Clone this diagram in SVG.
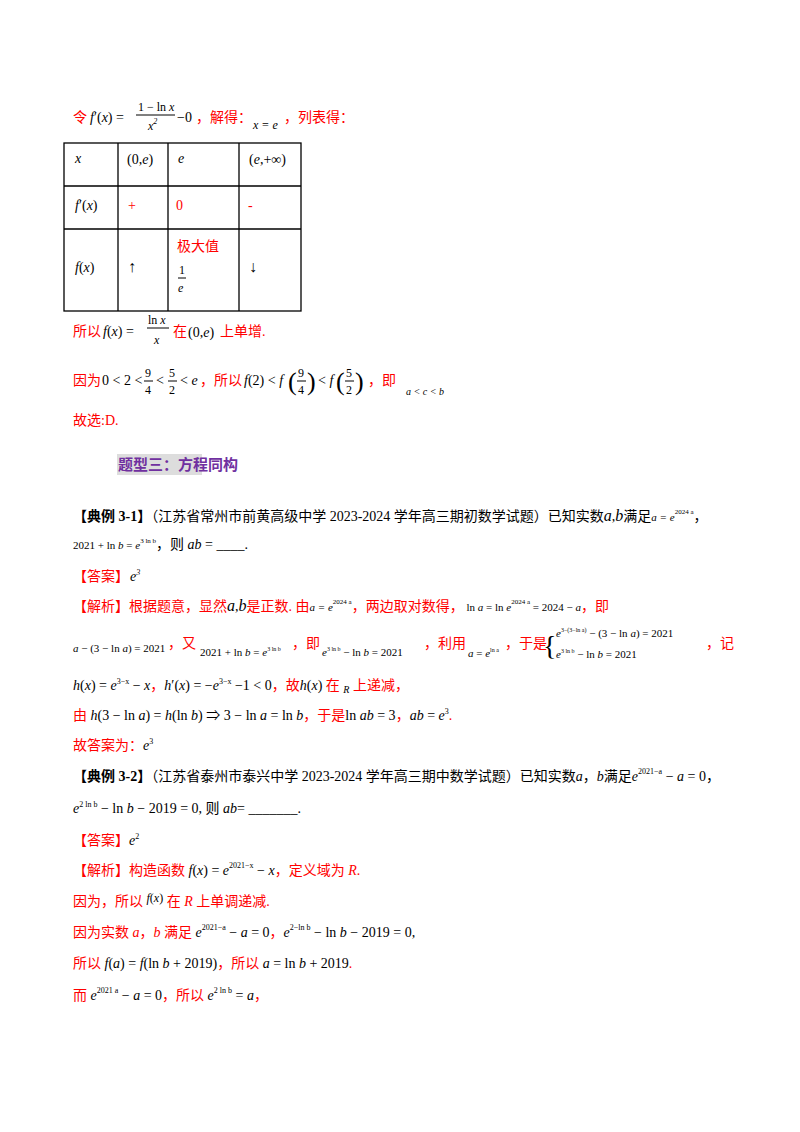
<svg xmlns="http://www.w3.org/2000/svg" width="800" height="1132" viewBox="0 0 800 1132">
<style>
svg{font-size:14px}
text{font-family:"Liberation Serif","Noto Sans CJK SC",serif;fill:#000}
.r{fill:#f00}
.m{font-style:italic}
.s{font-size:8px}
.b{font-weight:bold}
.t{fill:none;stroke:#000;stroke-width:1.3}
</style>
<rect width="800" height="1132" fill="#fff"/>
<text class="r" x="73" y="122">令</text>
<text x="90" y="122"><tspan class="m">f</tspan>′(<tspan class="m">x</tspan>) =</text>
<text x="138" y="111" font-size="12">1 − ln <tspan class="m">x</tspan></text>
<line x1="136" y1="115" x2="175" y2="115" stroke="#000"/>
<text x="148" y="130" font-size="12" class="m">x<tspan class="s" dy="-6">2</tspan></text>
<text x="177" y="122">−0</text>
<text class="r" x="196" y="122">，解得：</text>
<text x="253" y="129" font-size="12" class="m">x = e</text>
<text class="r" x="284" y="122">，列表得：</text>
<g id="table">
<rect class="t" x="64" y="143" width="237" height="168"/>
<line class="t" x1="118" y1="143" x2="118" y2="311"/>
<line class="t" x1="168" y1="143" x2="168" y2="311"/>
<line class="t" x1="239" y1="143" x2="239" y2="311"/>
<line class="t" x1="64" y1="186" x2="301" y2="186"/>
<line class="t" x1="64" y1="229" x2="301" y2="229"/>
<text x="75" y="163" class="m">x</text>
<text x="127" y="164">(0,<tspan class="m">e</tspan>)</text>
<text x="178" y="163" class="m">e</text>
<text x="249" y="164">(<tspan class="m">e</tspan>,+∞)</text>
<text x="75" y="210"><tspan class="m">f</tspan>′(<tspan class="m">x</tspan>)</text>
<text class="r" x="128" y="210">+</text>
<text class="r" x="176" y="210">0</text>
<text class="r" x="248" y="210">-</text>
<text x="75" y="272"><tspan class="m">f</tspan>(<tspan class="m">x</tspan>)</text>
<text x="128" y="272" font-size="16">↑</text>
<text class="r" x="177" y="251">极大值</text>
<text x="179" y="274" font-size="12">1</text>
<line x1="178" y1="278" x2="186" y2="278" stroke="#000"/>
<text x="178" y="292" font-size="12" class="m">e</text>
<text x="249" y="272" font-size="16">↓</text>
</g>
<text class="r" x="73" y="336">所以</text>
<text x="103" y="336"><tspan class="m">f</tspan>(<tspan class="m">x</tspan>) =</text>
<text x="148" y="324" font-size="12">ln <tspan class="m">x</tspan></text>
<line x1="147" y1="328" x2="169" y2="328" stroke="#000"/>
<text x="154" y="344" font-size="12" class="m">x</text>
<text class="r" x="173" y="336">在</text>
<text x="188" y="337">(0,<tspan class="m">e</tspan>)</text>
<text class="r" x="220" y="336">上单增.</text>
<text class="r" x="73" y="385">因为</text>
<text x="102" y="385">0 &lt; 2 &lt;</text>
<text x="145" y="377" font-size="12">9</text><line x1="144" y1="381" x2="153" y2="381" stroke="#000"/><text x="145" y="394" font-size="12">4</text>
<text x="156" y="385">&lt;</text>
<text x="169" y="377" font-size="12">5</text><line x1="168" y1="381" x2="177" y2="381" stroke="#000"/><text x="169" y="394" font-size="12">2</text>
<text x="180" y="385">&lt; <tspan class="m">e</tspan></text>
<text class="r" x="200" y="385">，所以</text>
<text x="244" y="385"><tspan class="m">f</tspan>(2) &lt; <tspan class="m">f</tspan></text>
<text x="288" y="390" font-size="26">(</text><text x="298" y="377" font-size="12">9</text><line x1="297" y1="381" x2="306" y2="381" stroke="#000"/><text x="298" y="394" font-size="12">4</text><text x="307" y="390" font-size="26">)</text>
<text x="318" y="385">&lt; <tspan class="m">f</tspan></text>
<text x="336" y="390" font-size="26">(</text><text x="346" y="377" font-size="12">5</text><line x1="345" y1="381" x2="354" y2="381" stroke="#000"/><text x="346" y="394" font-size="12">2</text><text x="355" y="390" font-size="26">)</text>
<text class="r" x="368" y="385">，即</text>
<text x="406" y="395" font-size="10" class="m">a &lt; c &lt; b</text>
<text class="r" x="73" y="425">故选:D.</text>
<rect x="117" y="454" width="85" height="21" fill="#ddd"/>
<text x="118" y="470" class="b" style="fill:#7030a0;font-family:'Noto Sans CJK SC',sans-serif" font-size="15">题型三：方程同构</text>
<text x="73" y="521"><tspan class="b">【典例 3-1】</tspan>（江苏省常州市前黄高级中学 2023-2024 学年高三期初数学试题）已知实数<tspan class="m" font-size="16">a</tspan>,<tspan class="m" font-size="16">b</tspan>满足<tspan class="m" font-size="11">a = e</tspan><tspan font-size="7" dy="-7">2024  a</tspan><tspan dy="7">，</tspan></text>
<text x="73" y="549" font-size="11">2021 + ln <tspan class="m">b</tspan> = <tspan class="m">e</tspan><tspan font-size="7" dy="-6">3  ln b</tspan><tspan font-size="14" dy="6">，则 </tspan><tspan class="m" font-size="14">ab</tspan><tspan font-size="14"> = ____.</tspan></text>
<text class="r" x="73" y="581">【答案】</text>
<text x="130" y="581" class="m">e<tspan class="s" dy="-6">3</tspan></text>
<text class="r" x="73" y="611">【解析】根据题意，显然<tspan class="m" style="fill:#000" font-size="16">a</tspan><tspan style="fill:#000">,</tspan><tspan class="m" style="fill:#000" font-size="16">b</tspan>是正数. 由<tspan style="fill:#000" font-size="11" class="m">a = e</tspan><tspan style="fill:#000" font-size="7" dy="-7">2024  a</tspan><tspan dy="7">，两边取对数得，</tspan><tspan style="fill:#000" font-size="11"> ln <tspan class="m">a</tspan> = ln <tspan class="m">e</tspan></tspan><tspan style="fill:#000" font-size="7" dy="-7">2024  a</tspan><tspan style="fill:#000" font-size="11" dy="7"> = 2024 − <tspan class="m">a</tspan></tspan>，即</text>
<text x="73" y="652" font-size="11"><tspan class="m">a</tspan> − (3 − ln <tspan class="m">a</tspan>) = 2021</text>
<text class="r" x="168" y="648">，又</text>
<text x="200" y="656" font-size="11">2021 + ln <tspan class="m">b</tspan> = <tspan class="m">e</tspan><tspan font-size="6" dy="-5">3  ln b</tspan></text>
<text class="r" x="292" y="648">，即</text>
<text x="322" y="656" font-size="11"><tspan class="m">e</tspan><tspan font-size="6" dy="-5">3  ln b</tspan><tspan dy="5"> − ln <tspan class="m">b</tspan> = 2021</tspan></text>
<text class="r" x="424" y="648">，利用</text>
<text x="468" y="657" font-size="11"><tspan class="m">a</tspan> = <tspan class="m">e</tspan><tspan font-size="6" dy="-5">ln a</tspan></text>
<text class="r" x="505" y="648">，于是</text>
<text x="543" y="655" font-size="28">{</text>
<text x="556" y="637" font-size="11"><tspan class="m">e</tspan><tspan font-size="6" dy="-5">3−(3−ln a)</tspan><tspan dy="5"> − (3 − ln <tspan class="m">a</tspan>) = 2021</tspan></text>
<text x="556" y="658" font-size="11"><tspan class="m">e</tspan><tspan font-size="6" dy="-5">3  ln b</tspan><tspan dy="5"> − ln <tspan class="m">b</tspan> = 2021</tspan></text>
<text class="r" x="706" y="648">，记</text>
<text x="73" y="690"><tspan class="m">h</tspan>(<tspan class="m">x</tspan>) = <tspan class="m">e</tspan><tspan class="s" dy="-6">3−x</tspan><tspan dy="6"> − <tspan class="m">x</tspan></tspan><tspan class="r">，</tspan><tspan class="m">h</tspan>′(<tspan class="m">x</tspan>) = −<tspan class="m">e</tspan><tspan class="s" dy="-6">3−x</tspan><tspan dy="6"> −1 &lt; 0</tspan><tspan class="r">，故</tspan><tspan class="m">h</tspan>(<tspan class="m">x</tspan>)<tspan class="r"> 在 </tspan><tspan class="m" font-size="10" dy="3">R</tspan><tspan class="r" dy="-3"> 上递减，</tspan></text>
<text x="73" y="720"><tspan class="r">由 </tspan><tspan class="m">h</tspan>(3 − ln <tspan class="m">a</tspan>) = <tspan class="m">h</tspan>(ln <tspan class="m">b</tspan>) ⇒ 3 − ln <tspan class="m">a</tspan> = ln <tspan class="m">b</tspan><tspan class="r">，于是</tspan>ln <tspan class="m">ab</tspan> = 3<tspan class="r">，</tspan><tspan class="m">ab</tspan> = <tspan class="m">e</tspan><tspan class="s" dy="-6">3</tspan><tspan dy="6" class="r">.</tspan></text>
<text x="73" y="750"><tspan class="r">故答案为：</tspan><tspan class="m">e</tspan><tspan class="s" dy="-6">3</tspan></text>
<text x="73" y="781"><tspan class="b">【典例 3-2】</tspan>（江苏省泰州市泰兴中学 2023-2024 学年高三期中数学试题）已知实数<tspan class="m">a</tspan>，<tspan class="m">b</tspan>满足<tspan class="m">e</tspan><tspan class="s" dy="-7">2021−a</tspan><tspan dy="7"> − <tspan class="m">a</tspan> = 0，</tspan></text>
<text x="73" y="813"><tspan class="m">e</tspan><tspan class="s" dy="-6">2  ln b</tspan><tspan dy="6"> − ln <tspan class="m">b</tspan> − 2019 = 0, 则 <tspan class="m">ab</tspan>= _______.</tspan></text>
<text x="73" y="845"><tspan class="r">【答案】</tspan><tspan class="m">e</tspan><tspan class="s" dy="-6">2</tspan></text>
<text x="73" y="875"><tspan class="r">【解析】构造函数 </tspan><tspan class="m">f</tspan>(<tspan class="m">x</tspan>) = <tspan class="m">e</tspan><tspan class="s" dy="-7">2021−x</tspan><tspan dy="7"> − <tspan class="m">x</tspan></tspan><tspan class="r">，定义域为 <tspan class="m">R</tspan>.</tspan></text>
<text x="73" y="906"><tspan class="r">因为，所以 </tspan><tspan font-size="12" dy="-4"><tspan class="m">f</tspan>(<tspan class="m">x</tspan>)</tspan><tspan class="r" dy="4"> 在 <tspan class="m">R</tspan> 上单调递减.</tspan></text>
<text x="73" y="937"><tspan class="r">因为实数 <tspan class="m">a</tspan>，<tspan class="m">b</tspan> 满足 </tspan><tspan class="m">e</tspan><tspan class="s" dy="-7">2021−a</tspan><tspan dy="7"> − <tspan class="m">a</tspan> = 0</tspan><tspan class="r">，</tspan><tspan class="m">e</tspan><tspan class="s" dy="-7">2−ln b</tspan><tspan dy="7"> − ln <tspan class="m">b</tspan> − 2019 = 0,</tspan></text>
<text x="73" y="968"><tspan class="r">所以 </tspan><tspan class="m">f</tspan>(<tspan class="m">a</tspan>) = <tspan class="m">f</tspan>(ln <tspan class="m">b</tspan> + 2019)<tspan class="r">，所以 </tspan><tspan class="m">a</tspan> = ln <tspan class="m">b</tspan> + 2019<tspan class="r">.</tspan></text>
<text x="73" y="1000"><tspan class="r">而 </tspan><tspan class="m">e</tspan><tspan class="s" dy="-7">2021  a</tspan><tspan dy="7"> − <tspan class="m">a</tspan> = 0</tspan><tspan class="r">，所以 </tspan><tspan class="m">e</tspan><tspan class="s" dy="-7">2  ln b</tspan><tspan dy="7"> = <tspan class="m">a</tspan></tspan><tspan class="r">，</tspan></text>
</svg>
